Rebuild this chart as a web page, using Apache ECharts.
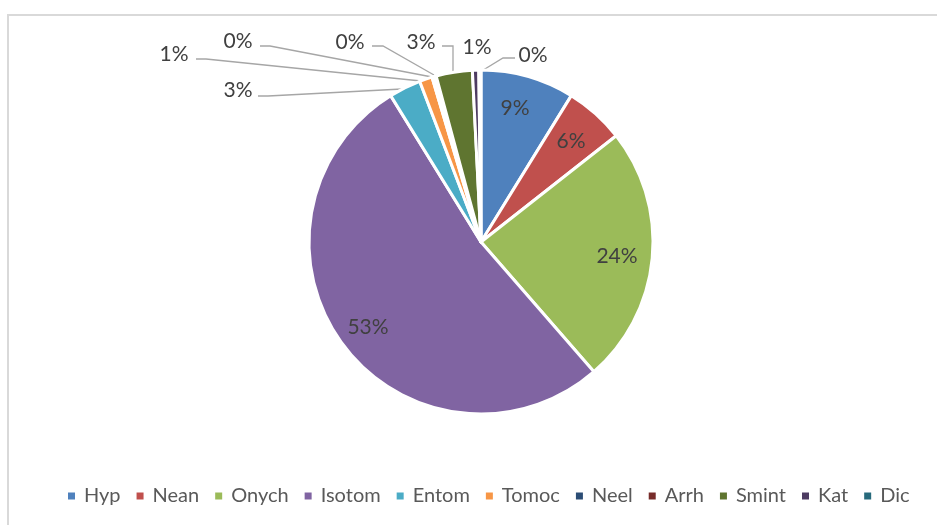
<!DOCTYPE html>
<html>
<head>
<meta charset="utf-8">
<script src="https://cdn.jsdelivr.net/npm/echarts@6/dist/echarts.min.js"></script>
<style>
html, body { margin: 0; padding: 0; background: #fff; overflow: hidden; }
#frame { position: absolute; left: 7px; top: 14px; width: 940px; height: 520px; border-left: 2px solid #d9d9d9; border-top: 2px solid #d9d9d9; }
#main { position: absolute; left: 0; top: 0; width: 937px; height: 525px; }
</style>
</head>
<body>
<div id="frame"></div>
<div id="main"></div>
<script>
var names = ['Hyp', 'Nean', 'Onych', 'Isotom', 'Entom', 'Tomoc', 'Neel', 'Arrh', 'Smint', 'Kat', 'Dic'];
var values = [8.8, 5.6, 24.2, 52.6, 3.0, 1.2, 0.2, 0.2, 3.4, 0.6, 0.2];
var colors = ['#4f81bd', '#c0504d', '#9bbb59', '#8064a2', '#4bacc6', '#f79646', '#2c4d75', '#772c2a', '#5f7530', '#4d3b62', '#276a7c'];

// label positions (px) and leader lines, Excel places these by hand
var labelPos = [
	[515, 108], [571, 141], [617, 256], [368, 327],
	[238, 90], [174, 54], [238, 41], [350, 42], [421, 42], [477, 47], [533, 55]
];
var leaderLines = [
	null, null, null, null,
	[[402, 89], [268, 96], [258, 96]],
	[[421, 81], [206, 59], [196, 59]],
	[[432, 77], [270, 46], [260, 46]],
	[[434, 75], [383, 46], [372, 46]],
	[[453, 73], [453, 46], [442, 46]],
	null,
	[[480, 72], [503, 58], [515, 58]]
];

var pieData = names.map(function (n, i) {
	return {
		name: n,
		value: values[i],
		labelLine: { show: leaderLines[i] != null }
	};
});

var chart = echarts.init(document.getElementById('main'));
var option = {
	color: colors,
	animation: false,
	legend: {
		data: names,
		top: 481,
		left: 61,
		icon: 'rect',
		itemWidth: 9,
		itemHeight: 9,
		itemGap: 14,
		textStyle: {
			fontFamily: 'Lato',
			fontSize: 20,
			color: '#595959',
			padding: [0, 0, 0, 3]
		}
	},
	series: [
		{
			type: 'pie',
			center: [481, 242],
			radius: 172,
			startAngle: 90,
			percentPrecision: 0,
			avoidLabelOverlap: false,
			itemStyle: {
				borderColor: '#fff',
				borderWidth: 3
			},
			label: {
				show: true,
				position: 'outside',
				formatter: '{d}%',
				fontFamily: 'Lato',
				fontSize: 21,
				color: '#404040'
			},
			labelLine: {
				lineStyle: { color: '#a6a6a6', width: 1.3 }
			},
			labelLayout: function (params) {
				var i = params.dataIndex;
				var res = {
					x: labelPos[i][0],
					y: labelPos[i][1],
					align: 'center',
					verticalAlign: 'middle'
				};
				if (leaderLines[i]) res.labelLinePoints = leaderLines[i];
				return res;
			},
			data: pieData
		}
	]
};
chart.setOption(option);
</script>
</body>
</html>
